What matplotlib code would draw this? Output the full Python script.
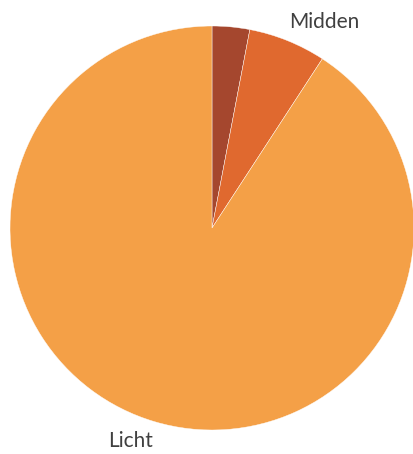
import numpy as np
import matplotlib.pyplot as plt

# Aandeel per categorie (%)
categorieen = ["Zwaar", "Midden", "Licht"]
labels = ["", "Midden", "Licht"]
waarden = [3.0, 6.2, 90.8]
kleuren = ["#A5472E", "#E0692F", "#F4A047"]

plt.rcParams['font.family'] = ['Lato', 'DejaVu Sans']

fig = plt.figure(figsize=(4.13, 4.54), dpi=100)
ax = fig.add_axes([0, 0, 1, 1])

wedges, teksten = ax.pie(waarden, labels=labels, colors=kleuren, startangle=90,
                         counterclock=False, labeldistance=1.1,
                         wedgeprops=dict(edgecolor="white", linewidth=0.3),
                         textprops=dict(fontsize=15, color="#404040"))

# labels iets dichter bij de rand (horizontaal), zoals in Excel
for w, t in zip(wedges, teksten):
    hoek = np.deg2rad((w.theta1 + w.theta2) / 2)
    t.set_position((1.02 * np.cos(hoek), 1.10 * np.sin(hoek)))

# centrum op (212, 228) px, straal 202 px
ax.set_aspect('auto')
ax.set_xlim(-212 / 202, (413 - 212) / 202)
ax.set_ylim((228 - 454) / 202, 228 / 202)
ax.axis('off')

fig.savefig("out.png", dpi=100)
